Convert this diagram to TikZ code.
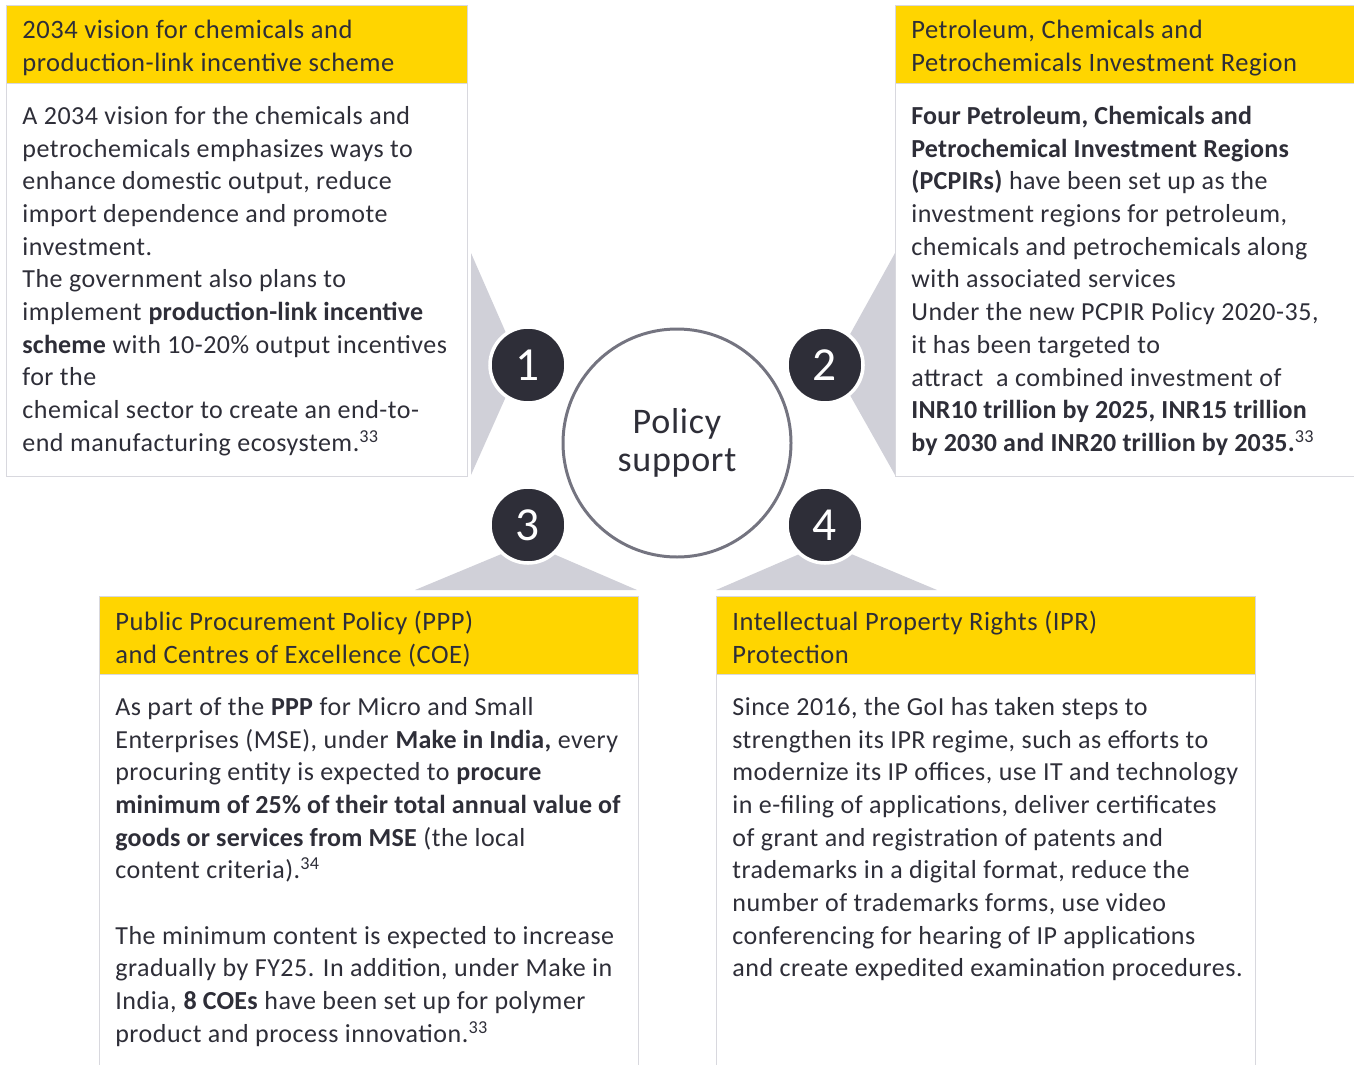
\documentclass[tikz,border=0pt]{standalone}
\usepackage{fontspec}
\setmainfont{Carlito}[LetterSpace=2.0,BoldFeatures={LetterSpace=0.8}]
\usepackage{tikz}
\usetikzlibrary{positioning}
\usepackage{xcolor}
\definecolor{eyyellow}{RGB}{255,213,0}
\definecolor{eydark}{RGB}{46,46,56}
\definecolor{funnelgray}{RGB}{208,208,216}
\definecolor{boxline}{RGB}{216,216,222}
\definecolor{hubline}{RGB}{116,116,128}
\tikzset{
  headbox/.style={fill=eyyellow,draw=boxline,line width=0.5pt,anchor=north west,inner sep=0pt},
  bodybox/.style={fill=white,draw=boxline,line width=0.8pt,anchor=north west,inner sep=0pt},
  blocktext/.style={anchor=north west,align=left,inner sep=0pt,text=eydark,
    font=\fontsize{14.8}{18.6}\selectfont},
  headtext/.style={blocktext,font=\fontsize{15.1}{18.6}\selectfont},
  numdot/.style={circle,fill=eydark,draw=white,line width=2pt,minimum size=2.1cm,
    inner sep=0pt,text=white,font=\fontsize{27}{27}\selectfont},
  hub/.style={circle,draw=hubline,line width=1.7pt,fill=white,minimum size=4.5cm,
    inner sep=0pt,align=center,text=eydark,font=\fontsize{20.5}{21.5}\selectfont},
  funnel/.style={fill=funnelgray}
}

\begin{document}
\begin{tikzpicture}[x=0.02cm,y=-0.02cm]
        \useasboundingbox (0,0) rectangle (1354,1064);
        \coordinate (c1) at (528,365);
        \coordinate (c2) at (825,365);
        \coordinate (c3) at (528,525);
        \coordinate (c4) at (825,525);
        % grey funnels behind the numbers
        \fill[funnel](471,253) -- ([xshift=-0.16cm]c1) -- (471,475) -- cycle;
        \fill[funnel](895,253) -- ([xshift=0.16cm]c2) -- (895,475) -- cycle;
        \fill[funnel](415,590) -- ([yshift=-0.36cm]c3) -- (637,590) -- cycle;
        \fill[funnel](716,590) -- ([yshift=-0.36cm]c4) -- (937,590) -- cycle;
        % boxes
        \node[bodybox,minimum width=461*0.02cm,minimum height=393*0.02cm] (b1) at (6,83) {};
        \node[headbox,minimum width=461*0.02cm,minimum height=78*0.02cm] (h1) at (6,5) {};
        \node[bodybox,minimum width=462*0.02cm,minimum height=393*0.02cm] (b2) at (895,83) {};
        \node[headbox,minimum width=462*0.02cm,minimum height=78*0.02cm] (h2) at (895,5) {};
        \node[bodybox,minimum width=539*0.02cm,minimum height=396*0.02cm] (b3) at (99,674) {};
        \node[headbox,minimum width=539*0.02cm,minimum height=78*0.02cm] (h3) at (99,596) {};
        \node[bodybox,minimum width=539*0.02cm,minimum height=396*0.02cm] (b4) at (716,674) {};
        \node[headbox,minimum width=539*0.02cm,minimum height=78*0.02cm] (h4) at (716,596) {};
        % headings
        \node[headtext] (t1) at (22,20) {2034 vision for chemicals and\\production-link incentive scheme};
        \node[headtext] (t2) at (911,20) {Petroleum, Chemicals and\\Petrochemicals Investment Region};
        \node[headtext] (t3) at (115,611) {Public Procurement Policy (PPP)\\and Centres of Excellence (COE)};
        \node[headtext] (t4) at (732,611) {Intellectual Property Rights (IPR)\\Protection};
        % texts
        \node[blocktext] (p1) at (22,106) {A 2034 vision for the chemicals and\\
          petrochemicals emphasizes ways to\\
          enhance domestic output, reduce\\
          import dependence and promote\\
          investment.\\
          The government also plans to\\
          implement \textbf{production-link incentive}\\
          \textbf{scheme} with 10-20\% output incentives\\
          for the\\
          chemical sector to create an end-to-\\
          end manufacturing ecosystem.\textsuperscript{33}};
        \node[blocktext] (p2) at (911,106) {\textbf{Four Petroleum, Chemicals and}\\
          \textbf{Petrochemical Investment Regions}\\
          \textbf{(PCPIRs)} have been set up as the\\
          investment regions for petroleum,\\
          chemicals and petrochemicals along\\
          with associated services\\
          Under the new PCPIR Policy 2020-35,\\
          it has been targeted to\\
          attract\ \ a combined investment of\\
          \textbf{INR10 trillion by 2025, INR15 trillion}\\
          \textbf{by 2030 and INR20 trillion by 2035.}\textsuperscript{33}};
        \node[blocktext] (p3) at (115,697) {As part of the \textbf{PPP} for Micro and Small\\
          Enterprises (MSE), under \textbf{Make in India,} every\\
          procuring entity is expected to \textbf{procure}\\
          \textbf{minimum of 25\% of their total annual value of}\\
          \textbf{goods or services from MSE} (the local\\
          content criteria).\textsuperscript{34}\\[18.6pt]
          The minimum content is expected to increase\\
          gradually by FY25. In addition, under Make in\\
          India, \textbf{8 COEs} have been set up for polymer\\
          product and process innovation.\textsuperscript{33}};
        \node[blocktext] (p4) at (732,697) {Since 2016, the GoI has taken steps to\\
          strengthen its IPR regime, such as efforts to\\
          modernize its IP offices, use IT and technology\\
          in e-filing of applications, deliver certificates\\
          of grant and registration of patents and\\
          trademarks in a digital format, reduce the\\
          number of trademarks forms, use video\\
          conferencing for hearing of IP applications\\
          and create expedited examination procedures.};
        % hub and numbers
        \node[hub,minimum size=228*0.02cm] (hub) at (677,443) {Policy\\support};
        \node[numdot,minimum size=76*0.02cm] (n1) at (c1) {1};
        \node[numdot,minimum size=76*0.02cm] (n2) at (c2) {2};
        \node[numdot,minimum size=76*0.02cm] (n3) at (c3) {3};
        \node[numdot,minimum size=76*0.02cm] (n4) at (c4) {4};
      \end{tikzpicture}
\end{document}
